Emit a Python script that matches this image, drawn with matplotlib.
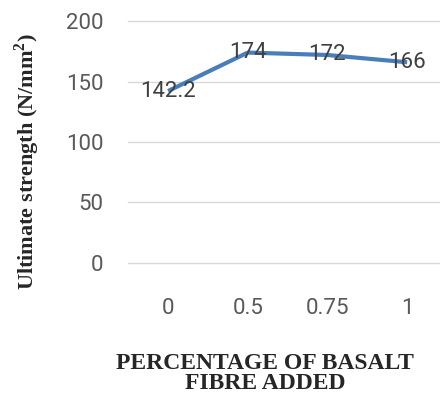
import matplotlib.pyplot as plt

# fibre content vs ultimate strength
categories = ['0', '0.5', '0.75', '1']
strength = [142.2, 174, 172, 166]
value_labels = ['142.2', '174', '172', '166']
y_ticks = [0, 50, 100, 150, 200]

fig = plt.figure(figsize=(4.4, 3.99), dpi=100)
ax = fig.add_axes([0.2914, 0.341, 0.7245, 0.606])

x = range(len(categories))
ax.plot(x, strength, color='#4a7ebb', linewidth=3.0, solid_capstyle='butt', zorder=3)

for xi, v, lab in zip(x, strength, value_labels):
    ax.text(xi, v, lab, ha='center', va='center', fontsize=16,
            family='Roboto', color='#404040', zorder=4)

ax.set_xlim(-0.5, 3.5)
ax.set_ylim(0, 200)
ax.set_yticks(y_ticks)
ax.set_xticks(list(x))
ax.set_xticklabels(categories)
ax.grid(axis='y', color='#d9d9d9', linewidth=1.0, clip_on=False)
ax.set_axisbelow(True)
for s in ax.spines.values():
    s.set_visible(False)
ax.tick_params(length=0, labelsize=16, labelcolor='#595959')
ax.tick_params(axis='y', pad=18)
ax.tick_params(axis='x', pad=25)
for t in ax.get_xticklabels() + ax.get_yticklabels():
    t.set_family('Roboto')

fig.text(0.061, 0.594, 'Ultimate strength (N/mm$^\\mathregular{2}$)', rotation=90,
         ha='center', va='center', family='Liberation Serif',
         fontweight='bold', fontsize=16, color='#262626')
fig.text(0.602, 0.064, 'PERCENTAGE OF BASALT\nFIBRE ADDED', ha='center', va='center',
         family='Liberation Serif', fontweight='bold', fontsize=17,
         color='#262626', linespacing=0.95)

fig.savefig('out.png', dpi=100)
